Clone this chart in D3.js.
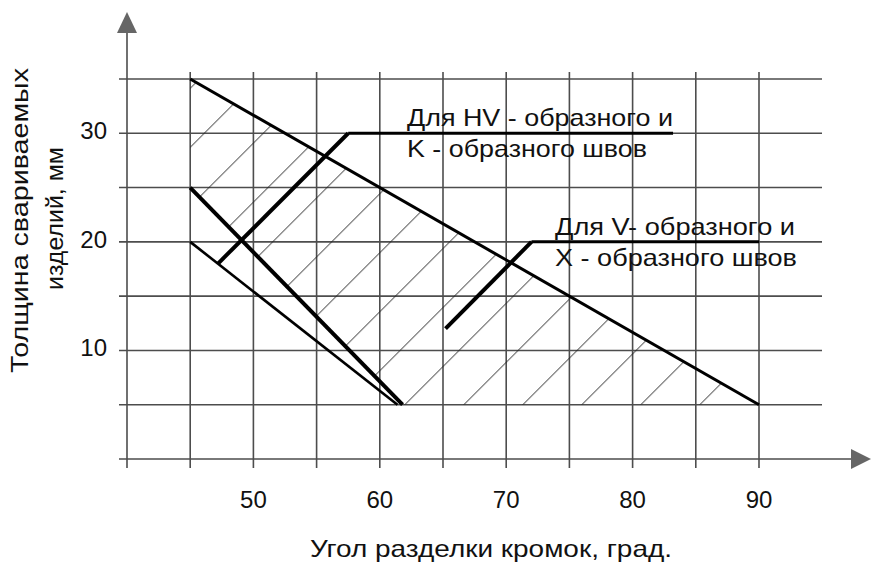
<!DOCTYPE html>
<html>
<head>
<meta charset="utf-8">
<script src="https://cdn.jsdelivr.net/npm/d3@7"></script>
<style>
  body { margin: 0; background: #fff; }
  text { font-family: "Liberation Sans", Arial, sans-serif; fill: #111; }
</style>
</head>
<body>
<div class="chart"></div>
<script>
var svgWidth = 871;
var svgHeight = 564;

// tick values
var xTicks = [50, 60, 70, 80, 90];
var yTicks = [10, 20, 30];
var xGrid = [40, 45, 50, 55, 60, 65, 70, 75, 80, 85, 90];
var yGrid = [5, 10, 15, 20, 25, 30, 35];

// boundary lines [angle, thickness]
var upperLine = [[45, 35], [90, 5]];
var hvLine = [[45, 25], [61.8, 5]];
var vLine = [[45, 20], [61.4, 5]];
// hatched zone between HV line and upper line
var zone = [[45, 35], [90, 5], [61.8, 5], [45, 25]];

// leader lines to the notes
var hvLeader = [[47.2, 18], [57.5, 30], [83.2, 30]];
var vLeader = [[65.2, 12], [72, 20], [90, 20]];
var hvNote = ["Для HV - образного и", "K - образного швов"];
var vNote = ["Для V- образного и", "X - образного швов"];

var svg = d3.select(".chart")
  .append("svg")
  .attr("width", svgWidth)
  .attr("height", svgHeight);

var x = d3.scaleLinear().domain([40, 90]).range([127, 759]);
var y = d3.scaleLinear().domain([0, 35]).range([459, 79]);

var gridColor = "#4d4d4d";

// hatch pattern, 45 deg in screen space
var step = 59;
var defs = svg.append("defs");
var pat = defs.append("pattern")
  .attr("id", "hatch")
  .attr("patternUnits", "userSpaceOnUse")
  .attr("x", x(45))
  .attr("y", y(28.7))
  .attr("width", step)
  .attr("height", step);
pat.append("path")
  .attr("d", `M0,${step} L${step},0 M-2,2 L2,-2 M${step - 2},${step + 2} L${step + 2},${step - 2}`)
  .attr("stroke", "#222")
  .attr("stroke-width", 1);

// grid
svg.append("g").selectAll("line")
  .data(yGrid)
  .enter()
  .append("line")
  .attr("x1", x(40) - 8)
  .attr("x2", 822)
  .attr("y1", d => y(d))
  .attr("y2", d => y(d))
  .attr("stroke", gridColor)
  .attr("stroke-width", 1.6);

svg.append("g").selectAll("line")
  .data(xGrid)
  .enter()
  .append("line")
  .attr("x1", d => x(d))
  .attr("x2", d => x(d))
  .attr("y1", d => d == 40 ? 33 : 72)
  .attr("y2", y(0) + 9)
  .attr("stroke", gridColor)
  .attr("stroke-width", 1.6);

// x axis with arrow
svg.append("line")
  .attr("x1", x(40) - 8)
  .attr("x2", 855)
  .attr("y1", y(0))
  .attr("y2", y(0))
  .attr("stroke", gridColor)
  .attr("stroke-width", 1.6);
svg.append("path")
  .attr("d", `M871,${y(0)} L851,${y(0) - 10} L851,${y(0) + 10} Z`)
  .attr("fill", "#666");
svg.append("path")
  .attr("d", `M${x(40)},12 L${x(40) - 10},33 L${x(40) + 10},33 Z`)
  .attr("fill", "#666");

// hatched area
svg.append("path")
  .attr("d", d3.line().x(d => x(d[0])).y(d => y(d[1]))(zone) + "Z")
  .attr("fill", "url(#hatch)")
  .attr("stroke", "none");

var line = d3.line().x(d => x(d[0])).y(d => y(d[1]));

function drawLine(pts, w) {
  svg.append("path")
    .attr("d", line(pts))
    .attr("fill", "none")
    .attr("stroke", "#000")
    .attr("stroke-width", w)
    .attr("stroke-linejoin", "miter");
}

drawLine(upperLine, 3);
drawLine(vLine, 2.6);
drawLine(hvLine, 4);
drawLine(hvLeader.slice(0, 2), 4);
drawLine(hvLeader.slice(1), 3);
drawLine(vLeader.slice(0, 2), 4);
drawLine(vLeader.slice(1), 3);

// stretched text, the scan is wider than plain Arial
function label(px, py, str, len, anchor) {
  return svg.append("text")
    .attr("x", px).attr("y", py)
    .attr("text-anchor", anchor || "start")
    .attr("textLength", len)
    .attr("lengthAdjust", "spacingAndGlyphs")
    .style("font-size", "24px")
    .text(str);
}

// notes
label(407, y(30) - 7, hvNote[0], 266);
label(407, y(30) + 24, hvNote[1], 240);
label(555, y(20) - 7, vNote[0], 240);
label(555, y(20) + 24, vNote[1], 242);

// tick labels
svg.append("g").selectAll("text")
  .data(xTicks)
  .enter()
  .append("text")
  .attr("x", d => x(d))
  .attr("y", 508)
  .attr("text-anchor", "middle")
  .style("font-size", "24px")
  .text(d => d);

svg.append("g").selectAll("text")
  .data(yTicks)
  .enter()
  .append("text")
  .attr("x", 107)
  .attr("y", d => y(d) + 6)
  .attr("text-anchor", "end")
  .style("font-size", "24px")
  .text(d => d);

// axis titles
label(310, 557, "Угол разделки кромок, град.", 362);

var yTitle = svg.append("g")
  .attr("transform", "translate(0, 373) rotate(-90)");
yTitle.append("text")
  .attr("x", 0).attr("y", 28)
  .attr("textLength", 305)
  .attr("lengthAdjust", "spacingAndGlyphs")
  .style("font-size", "24px")
  .text("Толщина свариваемых");
yTitle.append("text")
  .attr("x", 83).attr("y", 63)
  .attr("textLength", 143)
  .attr("lengthAdjust", "spacingAndGlyphs")
  .style("font-size", "24px")
  .text("изделий, мм");
</script>
</body>
</html>
